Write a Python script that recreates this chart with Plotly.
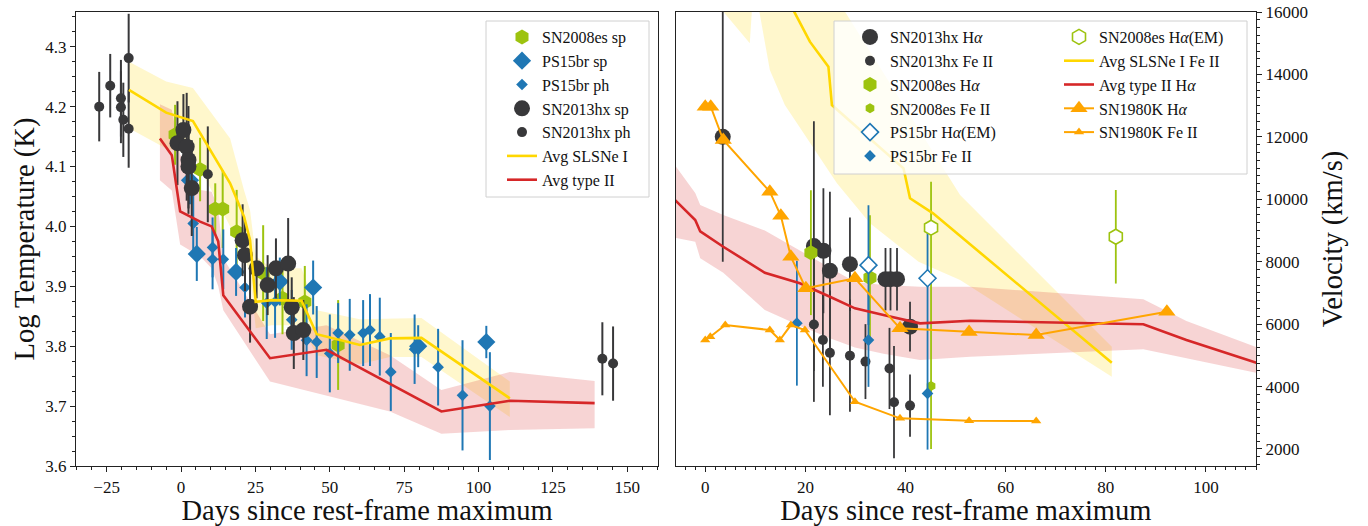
import plotly.graph_objects as go

# ---------------- LEFT PANEL DATA (Log Temperature) ----------------
hx_ph_day = [-27.5, -23.8, -20.2, -20.2, -19.4, -17.6, -17.6, 9.0, 141.6, 145.2]
hx_ph_T = [4.200, 4.235, 4.214, 4.199, 4.178, 4.281, 4.163, 4.087, 3.779, 3.771]
hx_ph_err = [0.058, 0.053, 0.064, 0.060, 0.062, 0.074, 0.065, 0.080, 0.061, 0.062]

hx_sp_day = [-1.2, 0.8, 1.9, 2.5, 2.5, 3.6, 20.7, 21.5, 25.4, 31.9, 36.0, 29.1, 23.2, 37.2, 37.9, 41.1]
hx_sp_T = [4.139, 4.161, 4.133, 4.111, 4.100, 4.064, 3.977, 3.952, 3.930, 3.930, 3.938, 3.902, 3.866, 3.865, 3.822, 3.827]
hx_sp_err = [0.07, 0.06, 0.09, 0.09, 0.07, 0.08, 0.06, 0.06, 0.05, 0.05, 0.076, 0.05, 0.06, 0.05, 0.06, 0.05]

es_sp_day = [-2.0, 6.4, 11.5, 14.0, 18.7, 27.6, 34.1, 41.6, 52.8]
es_sp_T = [4.153, 4.095, 4.029, 4.029, 3.991, 3.922, 3.880, 3.874, 3.802]
es_sp_err = [0.05, 0.053, 0.043, 0.065, 0.07, 0.08, 0.06, 0.06, 0.075]

br_sp_day = [3.0, 5.3, 18.5, 33.2, 44.4, 79.7, 102.6]
br_sp_T = [4.077, 3.954, 3.924, 3.908, 3.898, 3.800, 3.807]
br_sp_err = [0.04, 0.045, 0.04, 0.04, 0.045, 0.035, 0.027]

br_ph_day = [4.1, 10.6, 10.6, 14.2, 21.5, 28.8, 31.6, 37.2, 42.2, 45.6, 50.0, 52.8, 56.7, 61.2,
             63.5, 66.8, 70.5, 78.5, 86.4, 94.6, 103.8]
br_ph_T = [4.005, 3.965, 3.945, 3.945, 3.898, 3.872, 3.874, 3.844, 3.810, 3.807, 3.788, 3.822, 3.819, 3.822,
           3.827, 3.816, 3.757, 3.795, 3.765, 3.718, 3.700]
br_ph_err = [0.05, 0.05, 0.05, 0.05, 0.05, 0.06, 0.06, 0.05, 0.06, 0.06, 0.065, 0.05, 0.06, 0.055,
             0.06, 0.065, 0.065, 0.058, 0.064, 0.092, 0.090]

slsn_day = [-17.5, -5.0, 4.0, 16.5, 21.2, 23.2, 25.1, 30.5, 40.5, 45.6, 60.1, 70.2, 80.8, 110.5]
slsn_T = [4.228, 4.190, 4.176, 4.072, 4.016, 3.977, 3.874, 3.877, 3.876, 3.820, 3.802, 3.813, 3.814, 3.713]
slsn_T_hi = [4.275, 4.242, 4.231, 4.147, 4.060, 4.027, 3.950, 3.930, 3.930, 3.860, 3.845, 3.846, 3.847, 3.741]
slsn_T_lo = [4.164, 4.130, 4.120, 4.000, 3.950, 3.920, 3.830, 3.835, 3.835, 3.785, 3.770, 3.782, 3.782, 3.682]

t2_day = [-7.1, -3.1, -0.3, 6.4, 10.3, 12.5, 14.2, 29.9, 48.9, 70.2, 87.5, 110.5, 139.0]
t2_T = [4.147, 4.119, 4.025, 4.008, 4.000, 3.975, 3.885, 3.780, 3.794, 3.737, 3.691, 3.709, 3.705]
t2_T_hi = [4.204, 4.195, 4.120, 4.061, 4.058, 4.030, 3.947, 3.820, 3.835, 3.785, 3.727, 3.757, 3.742]
t2_T_lo = [4.077, 4.060, 3.970, 3.950, 3.930, 3.900, 3.860, 3.741, 3.717, 3.691, 3.654, 3.660, 3.663]

# ---------------- RIGHT PANEL DATA (Velocity) ----------------
hx_ha_day = [3.5, 21.7, 23.6, 24.9, 28.9, 36.0, 37.0, 38.3, 40.9]
hx_ha_v = [12000, 8500, 8350, 7710, 7920, 7440, 7440, 7440, 5920]
hx_ha_err = [4000, 4000, 2000, 2530, 1500, 1000, 1000, 1000, 800]

hx_fe_day = [21.7, 23.5, 24.9, 28.9, 32.0, 36.8, 37.7, 40.9]
hx_fe_v = [5990, 5490, 5080, 4990, 4800, 4580, 3500, 3390]
hx_fe_err = [2480, 1500, 2000, 1800, 1200, 1300, 1800, 1000]

es_ha_day = [21.1, 32.9]
es_ha_v = [8290, 7490]
es_ha_err = [2000, 2000]

es_fe_day = [45.1]
es_fe_v = [4020]
es_fe_err_up = [3600]
es_fe_err_dn = [2020]

br_em_day = [32.6, 44.4]
br_em_v = [7890, 7470]
br_em_err = [1920, 1500]

br_fe_day = [18.3, 32.6, 44.4]
br_fe_v = [6030, 5490, 3780]
br_fe_err_up = [2000, 1500, 2200]
br_fe_err_dn = [2000, 1500, 1800]

es_em_day = [45.1, 82.0]
es_em_v = [9090, 8800]
es_em_err = [1470, 1500]

k80_ha_day = [0.0, 1.1, 3.6, 12.9, 15.1, 17.1, 20.1, 29.9, 38.9, 52.7, 66.1, 92.2]
k80_ha_v = [12966, 12966, 11900, 10243, 9473, 8160, 7147, 7468, 5866, 5750, 5651, 6397]

k80_fe_day = [0.0, 1.0, 4.0, 12.9, 14.9, 17.1, 19.9, 29.9, 38.9, 52.7, 66.1]
k80_fe_v = [5491, 5597, 5971, 5811, 5491, 5971, 5811, 3514, 2982, 2906, 2896]

slsn_fe_day = [12.9, 20.9, 24.6, 25.3, 39.6, 40.9, 45.5, 81.2]
slsn_fe_v = [17500, 15049, 14247, 13020, 10992, 10031, 9550, 4764]
slsn_fe_hi_day = [0.0, 26.0, 50.9, 81.2]
slsn_fe_hi_v = [22000, 16500, 10137, 5277]
slsn_fe_lo_day = [0.0, 8.9, 9.7, 12.9, 15.9, 26.3, 32.9, 42.6, 50.9, 81.2]
slsn_fe_lo_v = [16700, 15000, 17000, 14142, 13020, 10511, 9230, 8000, 7413, 4316]

t2_ha_day = [-7.0, -2.0, -1.0, 3.6, 11.9, 18.9, 24.9, 29.9, 35.6, 42.9, 52.9, 87.5, 96.1, 112.0]
t2_ha_v = [10130, 9336, 8970, 8480, 7647, 7308, 6879, 6506, 6292, 6026, 6109, 5994, 5491, 4660]
t2_ha_hi = [11300, 10200, 9816, 9500, 9000, 8350, 7800, 7350, 7250, 7199, 7199, 6794, 6100, 5150]
t2_ha_lo = [8800, 8640, 8108, 7650, 6452, 5950, 5550, 5250, 5050, 4850, 4956, 5193, 4900, 4380]

# ---------------- STYLE ----------------
C_HX = "#38383a"
C_ES = "#9dc30f"
C_BR = "#1f77b4"
C_K = "#ffa500"
C_SL = "#ffd700"
C_T2 = "#d62728"
FONT = "Liberation Serif"

fig = go.Figure()


def band(x_hi, y_hi, x_lo, y_lo, color, xa, ya):
    fig.add_trace(go.Scatter(x=list(x_hi) + list(x_lo)[::-1], y=list(y_hi) + list(y_lo)[::-1],
                             fill="toself", fillcolor=color, line=dict(width=0), mode="lines",
                             hoverinfo="skip", showlegend=False, xaxis=xa, yaxis=ya))


def pts(x, y, err, color, symbol, size, name, legend, xa, ya, err_dn=None, fill=None, width=2.0):
    ey = dict(type="data", array=err, color=color, thickness=width, width=0, visible=True)
    if err_dn is not None:
        ey["symmetric"] = False
        ey["arrayminus"] = err_dn
    mk = dict(color=fill if fill else color, symbol=symbol, size=size)
    if fill:
        mk["line"] = dict(color=color, width=1.6)
    fig.add_trace(go.Scatter(x=x, y=y, mode="markers", marker=mk, error_y=ey, name=name,
                             legend=legend, legendgroup=name, xaxis=xa, yaxis=ya))


# left bands
band(slsn_day, slsn_T_hi, slsn_day, slsn_T_lo, "rgba(255,215,0,0.2)", "x", "y")
band(t2_day, t2_T_hi, t2_day, t2_T_lo, "rgba(214,39,40,0.2)", "x", "y")

# left points (legend order)
pts(es_sp_day, es_sp_T, es_sp_err, C_ES, "hexagon", 15, "SN2008es sp", "legend", "x", "y")
pts(br_sp_day, br_sp_T, br_sp_err, C_BR, "diamond", 14, "PS15br sp", "legend", "x", "y")
pts(br_ph_day, br_ph_T, br_ph_err, C_BR, "diamond", 9, "PS15br ph", "legend", "x", "y")
pts(hx_sp_day, hx_sp_T, hx_sp_err, C_HX, "circle", 16, "SN2013hx sp", "legend", "x", "y")
pts(hx_ph_day, hx_ph_T, hx_ph_err, C_HX, "circle", 10, "SN2013hx ph", "legend", "x", "y")

fig.add_trace(go.Scatter(x=slsn_day, y=slsn_T, mode="lines", line=dict(color=C_SL, width=2.6),
                         name="Avg SLSNe I", legend="legend", legendgroup="a1", xaxis="x", yaxis="y"))
fig.add_trace(go.Scatter(x=t2_day, y=t2_T, mode="lines", line=dict(color=C_T2, width=2.6),
                         name="Avg type II", legend="legend", legendgroup="a2", xaxis="x", yaxis="y"))

# right bands
band(slsn_fe_hi_day, slsn_fe_hi_v, slsn_fe_lo_day, slsn_fe_lo_v, "rgba(255,215,0,0.2)", "x2", "y2")
band(t2_ha_day, t2_ha_hi, t2_ha_day, t2_ha_lo, "rgba(214,39,40,0.2)", "x2", "y2")

# right points
pts(hx_ha_day, hx_ha_v, hx_ha_err, C_HX, "circle", 16, "SN2013hx H<i>α</i>", "legend2", "x2", "y2", width=1.8)
pts(hx_fe_day, hx_fe_v, hx_fe_err, C_HX, "circle", 10, "SN2013hx Fe II", "legend2", "x2", "y2", width=1.8)
pts(es_ha_day, es_ha_v, es_ha_err, C_ES, "hexagon", 15, "SN2008es H<i>α</i>", "legend2", "x2", "y2", width=1.8)
pts(es_fe_day, es_fe_v, es_fe_err_up, C_ES, "hexagon", 10, "SN2008es Fe II", "legend2", "x2", "y2",
    err_dn=es_fe_err_dn, width=1.8)
pts(br_em_day, br_em_v, br_em_err, C_BR, "diamond", 13, "PS15br H<i>α</i>(EM)", "legend2", "x2", "y2",
    fill="white", width=1.8)
pts(br_fe_day, br_fe_v, br_fe_err_up, C_BR, "diamond", 9, "PS15br Fe II", "legend2", "x2", "y2",
    err_dn=br_fe_err_dn, width=1.8)
pts(es_em_day, es_em_v, es_em_err, C_ES, "hexagon", 15, "SN2008es H<i>α</i>(EM)", "legend3", "x2", "y2",
    fill="white", width=1.8)

fig.add_trace(go.Scatter(x=slsn_fe_day, y=slsn_fe_v, mode="lines", line=dict(color=C_SL, width=2.6),
                         name="Avg SLSNe I Fe II", legend="legend3", legendgroup="b1", xaxis="x2", yaxis="y2"))
fig.add_trace(go.Scatter(x=t2_ha_day, y=t2_ha_v, mode="lines", line=dict(color=C_T2, width=2.6),
                         name="Avg type II H<i>α</i>", legend="legend3", legendgroup="b2", xaxis="x2", yaxis="y2"))
fig.add_trace(go.Scatter(x=k80_ha_day, y=k80_ha_v, mode="lines+markers", line=dict(color=C_K, width=2),
                         marker=dict(symbol="triangle-up", size=15, color=C_K),
                         name="SN1980K H<i>α</i>", legend="legend3", legendgroup="b3", xaxis="x2", yaxis="y2"))
fig.add_trace(go.Scatter(x=k80_fe_day, y=k80_fe_v, mode="lines+markers", line=dict(color=C_K, width=2),
                         marker=dict(symbol="triangle-up", size=9, color=C_K),
                         name="SN1980K Fe II", legend="legend3", legendgroup="b4", xaxis="x2", yaxis="y2"))

W, H = 1368, 526
T_M, B_M = 12, 60
PH = H - T_M - B_M


def px(xp):
    return xp / W


def py(yp):
    return (H - B_M - yp) / PH


axis_common = dict(showline=True, linecolor="#222222", linewidth=1.3, mirror=True, ticks="outside",
                   ticklen=5, tickwidth=1.1, tickcolor="#222222", showgrid=False, zeroline=False,
                   tickfont=dict(family=FONT, size=17, color="#111111"))

leg_common = dict(xanchor="left", yanchor="top", bgcolor="rgba(0,0,0,0)", borderwidth=0,
                  traceorder="grouped", tracegroupgap=0, itemsizing="trace",
                  font=dict(family=FONT, size=16))

TITLE_FONT = dict(family=FONT, size=28.5)

fig.update_layout(
    width=W, height=H, margin=dict(l=0, r=0, t=T_M, b=B_M),
    plot_bgcolor="white", paper_bgcolor="white",
    font=dict(family=FONT, size=16, color="#111111"),
    xaxis=dict(domain=[px(76), px(658)], range=[-35.3, 160.3], dtick=25, tick0=0,
               minor=dict(dtick=5, ticks="outside", ticklen=3, tickcolor="#222222"),
               title=dict(text="Days since rest-frame maximum", font=TITLE_FONT, standoff=2),
               anchor="y", **axis_common),
    yaxis=dict(domain=[0, 1], range=[3.6, 4.358], dtick=0.1, tick0=3.6, tickformat=".1f",
               minor=dict(dtick=0.025, ticks="outside", ticklen=3, tickcolor="#222222"),
               title=dict(text="Log Temperature (K)", font=TITLE_FONT, standoff=2),
               anchor="x", **axis_common),
    xaxis2=dict(domain=[px(675.7), px(1256)], range=[-5.9, 110], dtick=20, tick0=0,
                minor=dict(dtick=2, ticks="outside", ticklen=3, tickcolor="#222222"),
                title=dict(text="Days since rest-frame maximum", font=TITLE_FONT, standoff=2),
                anchor="y2", **axis_common),
    yaxis2=dict(domain=[0, 1], range=[1455, 16000], dtick=2000, tick0=0, side="right", tickformat="d",
                minor=dict(dtick=250, ticks="outside", ticklen=3, tickcolor="#222222"),
                title=dict(text="Velocity (km/s)", font=TITLE_FONT, standoff=15),
                anchor="x2", **axis_common),
    showlegend=True,
    legend=dict(x=px(502), y=py(20), **leg_common),
    legend2=dict(x=px(850), y=py(20), **leg_common),
    legend3=dict(x=px(1059), y=py(20), **leg_common),
    shapes=[
        dict(type="rect", xref="paper", yref="paper", x0=px(486), x1=px(649), y0=py(197), y1=py(21),
             fillcolor="rgba(255,255,255,0.8)", line=dict(color="#d0d0d0", width=1), layer="above"),
        dict(type="rect", xref="paper", yref="paper", x0=px(834), x1=px(1247), y0=py(174), y1=py(21),
             fillcolor="rgba(255,255,255,0.8)", line=dict(color="#d0d0d0", width=1), layer="above"),
    ],
)

fig.write_html("out.html", config={"displayModeBar": False},
               post_script="document.body.style.margin='0';document.body.style.overflow='hidden';")
